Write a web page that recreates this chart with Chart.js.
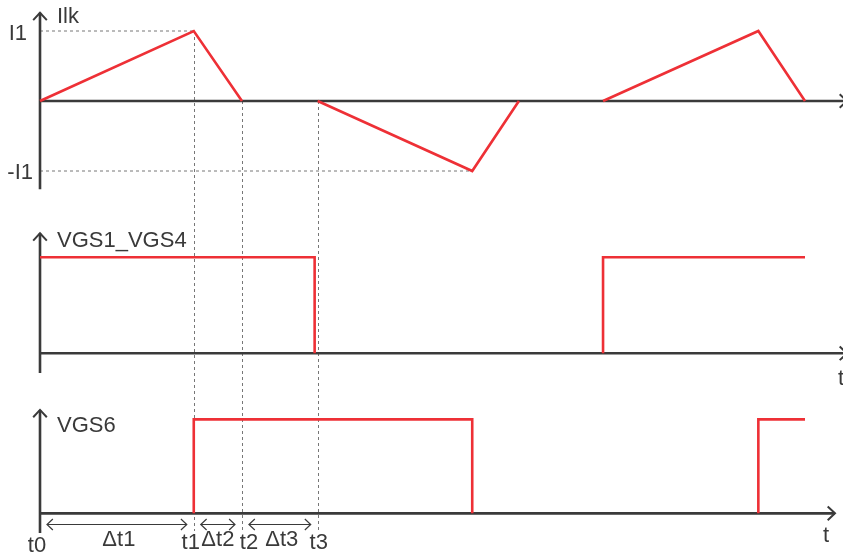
<!DOCTYPE html>
<html lang="en">
<head>
<meta charset="UTF-8">
<title>Ilk and gate signals</title>
<script src="https://cdn.jsdelivr.net/npm/chart.js"></script>
<style>
  body { margin: 0; background: #fff; }
  #wrap { width: 843px; height: 553px; }
</style>
</head>
<body>
<div id="wrap"><canvas id="timing" width="843" height="553"></canvas></div>
<script>
  // switching instants t0..t3
  const instants = [0, 20.1, 26.4, 36.3];
  const instantLabels = ['t0', 't1', 't2', 't3'];
  const intervalLabels = ['\u0394t1', '\u0394t2', '\u0394t3'];

  // leakage current, in units of I1 (null breaks the trace)
  const ilkTime  = [0, 20.1, 26.4, 26.4, 36.3, 56.5, 62.6, 62.6, 73.6, 93.9, 100];
  const ilkValue = [0, 1, 0, null, 0, -1, 0, null, 0, 1, 0];

  // gate drive S1/S4
  const vgs14Time  = [0, 35.9, 35.9, 35.9, 73.6, 73.6, 100];
  const vgs14Value = [1, 1, 0, null, 0, 1, 1];

  // gate drive S6
  const vgs6Time  = [20.1, 20.1, 56.5, 56.5, 56.5, 93.9, 93.9, 100];
  const vgs6Value = [0, 1, 1, 0, null, 0, 1, 1];

  const RED = '#ee3036';
  const INK = '#3a3a3a';
  const FONT = '22px "Liberation Sans", Arial, sans-serif';

  function pts(ts, vs) {
    return ts.map((t, i) => ({ x: t, y: vs[i] }));
  }

  function chevron(ctx, x, y, dir, len) {
    // open arrow head; dir is the angle the tip points to
    const a = 0.75;
    ctx.beginPath();
    ctx.moveTo(x - len * Math.cos(dir - a), y - len * Math.sin(dir - a));
    ctx.lineTo(x, y);
    ctx.lineTo(x - len * Math.cos(dir + a), y - len * Math.sin(dir + a));
    ctx.stroke();
  }

  const axesPlugin = {
    id: 'timingAxes',
    beforeDatasetsDraw(chart) {
      const ctx = chart.ctx;
      const x = chart.scales.x;
      const x0 = x.getPixelForValue(0);
      const panels = [
        { s: chart.scales.yI, top: 1.26, bottom: -1.26, end: 847 },
        { s: chart.scales.yA, top: 1.25, bottom: -0.205, end: 847 },
        { s: chart.scales.yB, top: 1.1, bottom: -0.21, end: 835 }
      ];
      ctx.save();

      // dotted guides
      const yI = chart.scales.yI;
      ctx.strokeStyle = '#777';
      ctx.lineWidth = 1;
      ctx.setLineDash([3, 3]);
      ctx.beginPath();
      ctx.moveTo(x0, yI.getPixelForValue(1));
      ctx.lineTo(x.getPixelForValue(instants[1]), yI.getPixelForValue(1));
      ctx.moveTo(x0, yI.getPixelForValue(-1));
      ctx.lineTo(x.getPixelForValue(56.5), yI.getPixelForValue(-1));
      instants.slice(1).forEach((t, i) => {
        const px = Math.round(x.getPixelForValue(t)) + 0.5;
        ctx.moveTo(px, yI.getPixelForValue(i === 0 ? 1 : 0));
        ctx.lineTo(px, 531);
      });
      ctx.stroke();
      ctx.setLineDash([]);

      // panel axes
      ctx.strokeStyle = INK;
      ctx.lineWidth = 2.6;
      ctx.lineCap = 'butt';
      panels.forEach(p => {
        const yz = p.s.getPixelForValue(0);
        const yt = p.s.getPixelForValue(p.top);
        ctx.beginPath();
        ctx.moveTo(x0, p.s.getPixelForValue(p.bottom));
        ctx.lineTo(x0, yt);
        ctx.moveTo(x0, yz);
        ctx.lineTo(p.end, yz);
        ctx.stroke();
        ctx.lineWidth = 2;
        chevron(ctx, x0, yt, -Math.PI / 2, 10);
        chevron(ctx, p.end, yz, 0, 10);
        ctx.lineWidth = 2.6;
      });

      // interval arrows
      const ya = 524.5;
      ctx.lineWidth = 1.2;
      for (let i = 0; i < 3; i++) {
        const a = x.getPixelForValue(instants[i]) + 7;
        const b = x.getPixelForValue(instants[i + 1]) - 7;
        ctx.beginPath();
        ctx.moveTo(a, ya);
        ctx.lineTo(b, ya);
        ctx.stroke();
        chevron(ctx, a, ya, Math.PI, 8);
        chevron(ctx, b, ya, 0, 8);
      }
      ctx.restore();
    },
    afterDraw(chart) {
      const ctx = chart.ctx;
      const x = chart.scales.x;
      const yI = chart.scales.yI;
      const x0 = x.getPixelForValue(0);
      ctx.save();
      ctx.fillStyle = INK;
      ctx.font = FONT;
      ctx.textBaseline = 'alphabetic';
      ctx.textAlign = 'left';
      ctx.fillText('Ilk', x0 + 17, 23);
      ctx.fillText('VGS1_VGS4', x0 + 17, 247);
      ctx.fillText('VGS6', x0 + 17, 432);
      ctx.textAlign = 'right';
      ctx.fillText('I1', x0 - 13, yI.getPixelForValue(1) + 9);
      ctx.fillText('-I1', x0 - 7, yI.getPixelForValue(-1) + 8);
      ctx.textAlign = 'center';
      ctx.fillText('t', 841, 385);
      ctx.fillText('t', 826, 542);
      const shift = [-3, -3, 7, 1];
      instants.forEach((t, i) => {
        ctx.fillText(instantLabels[i], x.getPixelForValue(t) + shift[i], i === 0 ? 552 : 549);
      });
      for (let i = 0; i < 3; i++) {
        const mid = (x.getPixelForValue(instants[i]) + x.getPixelForValue(instants[i + 1])) / 2;
        ctx.fillText(intervalLabels[i], mid + (i === 1 ? 0 : 2), 546);
      }
      ctx.restore();
    }
  };

  const lineStyle = {
    showLine: true,
    borderColor: RED,
    borderWidth: 2.6,
    pointRadius: 0,
    tension: 0,
    spanGaps: false,
    borderJoinStyle: 'miter',
    clip: false
  };

  new Chart(document.getElementById('timing'), {
    type: 'scatter',
    data: {
      datasets: [
        Object.assign({ label: 'Ilk', data: pts(ilkTime, ilkValue), yAxisID: 'yI' }, lineStyle),
        Object.assign({ label: 'VGS1_VGS4', data: pts(vgs14Time, vgs14Value), yAxisID: 'yA' }, lineStyle),
        Object.assign({ label: 'VGS6', data: pts(vgs6Time, vgs6Value), yAxisID: 'yB' }, lineStyle)
      ]
    },
    options: {
      responsive: false,
      animation: false,
      events: [],
      layout: { padding: 0 },
      plugins: { legend: { display: false }, tooltip: { enabled: false } },
      scales: {
        x: { type: 'linear', display: false, min: -5.229, max: 104.967 },
        yI: { type: 'linear', display: false, min: -6.457, max: 1.443 },
        yA: { type: 'linear', display: false, min: -2.08, max: 3.68 },
        yB: { type: 'linear', display: false, min: -0.422, max: 5.461 }
      }
    },
    plugins: [axesPlugin]
  });
</script>
</body>
</html>
